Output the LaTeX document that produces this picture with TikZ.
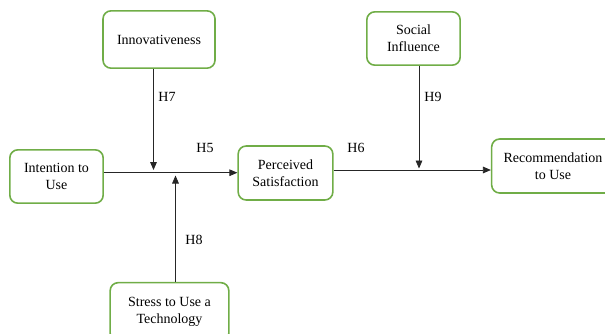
\documentclass[tikz,border=0pt]{standalone}
\usepackage{fontspec}
\setmainfont{Liberation Serif}
\usetikzlibrary{arrows.meta}
\definecolor{boxgreen}{RGB}{112,173,71}

\begin{document}
\begin{tikzpicture}[x=0.75pt,y=-0.75pt,font=\rmfamily\fontsize{10.5}{12.75}\selectfont]
  \tikzstyle{VarBox}=[rectangle,rounded corners=6pt,draw=boxgreen,line width=1.2pt,align=center,inner sep=2pt]
  \tikzstyle{Link}=[-{Triangle[length=6pt,width=5pt]},line width=0.6pt,draw=black!85]
  \useasboundingbox (0,0) rectangle (605,333);

  % constructs
  \node[VarBox, minimum width=84pt, minimum height=43pt] (innov) at (159,39.5) {Innovativeness};
  \node[VarBox, minimum width=70pt, minimum height=40pt] (social) at (413.5,38.5) {Social\\Influence};
  \node[VarBox, minimum width=70pt, minimum height=40pt] (intent) at (56.5,176.5) {Intention to\\Use};
  \node[VarBox, minimum width=71pt, minimum height=40.5pt] (persat) at (285.5,173) {Perceived\\Satisfaction};
  \node[VarBox, minimum width=92pt, minimum height=40.5pt] (recom) at (553,166) {Recommendation\\to Use};
  \node[VarBox, minimum width=89pt, minimum height=44pt] (stress) at (169.5,312) {Stress to Use a\\Technology};

  % points where the moderators meet the paths
  \coordinate (m7) at (153.5,170);
  \coordinate (m8) at (175.5,175.5);
  \coordinate (m9) at (419,168.5);
  \coordinate (p5) at (0,172.7);
  \coordinate (p6) at (0,170);

  % edges
  \draw[Link] (intent.east |- p5) -- (persat.west |- p5);
  \draw[Link] (persat.east |- p6) -- (recom.west |- p6);
  \draw[Link] (innov.south -| m7) -- (m7);
  \draw[Link] (stress.north -| m8) -- (m8);
  \draw[Link] (social.south -| m9) -- (m9);

  % hypotheses
  \node (h5) at (205,148) {H5};
  \node (h6) at (356,148) {H6};
  \node (h7) at (167,97) {H7};
  \node (h8) at (194,240) {H8};
  \node (h9) at (433,97) {H9};

\end{tikzpicture}
\end{document}
